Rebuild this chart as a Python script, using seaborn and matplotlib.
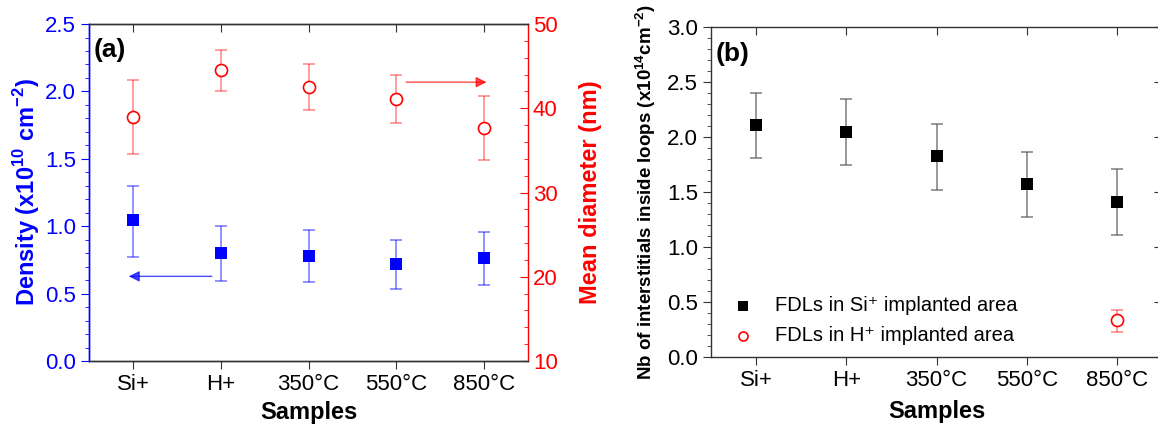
import numpy as np
import pandas as pd
import matplotlib
matplotlib.use("Agg")
import matplotlib.pyplot as plt
from matplotlib.ticker import MultipleLocator
import seaborn as sns

# --- dados ---
samples = ["Si+", "H+", "350°C", "550°C", "850°C"]

density = [1.045, 0.80, 0.78, 0.718, 0.767]
density_hi = [1.30, 1.005, 0.97, 0.896, 0.955]
density_lo = [0.775, 0.597, 0.584, 0.532, 0.567]

diameter = [39.0, 44.5, 42.5, 41.1, 37.6]
diameter_hi = [43.4, 46.9, 45.25, 44.0, 41.45]
diameter_lo = [34.55, 42.1, 39.8, 38.2, 33.8]

n_si = [2.11, 2.05, 1.827, 1.574, 1.413]
n_si_hi = [2.40, 2.35, 2.12, 1.866, 1.705]
n_si_lo = [1.805, 1.745, 1.517, 1.27, 1.112]

h_sample = ["850°C"]
n_h = [0.334]
n_h_hi = [0.43]
n_h_lo = [0.225]

# --- estilo ---
sns.set_style("ticks")
plt.rcParams["font.family"] = ["Liberation Sans", "DejaVu Sans"]
plt.rcParams["mathtext.fontset"] = "custom"
plt.rcParams["mathtext.rm"] = "Liberation Sans"
plt.rcParams["mathtext.bf"] = "Liberation Sans:bold"
plt.rcParams["axes.linewidth"] = 1.0
plt.rcParams["text.color"] = "black"
plt.rcParams["axes.labelcolor"] = "black"
plt.rcParams["xtick.color"] = "black"
plt.rcParams["ytick.color"] = "black"

BLUE = "#0000ff"
RED = "#ff0000"
TICK_FS = 16

pos = {s: i for i, s in enumerate(samples)}
df_a = pd.DataFrame({"x": [pos[s] for s in samples], "density": density,
                     "diameter": diameter})
df_b = pd.DataFrame({"x": [pos[s] for s in samples], "n": n_si})
df_h = pd.DataFrame({"x": [pos[s] for s in h_sample], "n": n_h})


def err(v, lo, hi):
    v = np.array(v)
    return [v - np.array(lo), np.array(hi) - v]


fig = plt.figure(figsize=(11.58, 4.26), dpi=100)

# ================= painel (a) =================
ax = fig.add_axes([0.0769, 0.1526, 0.3791, 0.791])
ax2 = ax.twinx()

ax.errorbar(df_a["x"], df_a["density"], yerr=err(density, density_lo, density_hi),
            fmt="none", ecolor=BLUE, alpha=0.5, elinewidth=1.2, capsize=4, capthick=1.2)
sns.scatterplot(data=df_a, x="x", y="density", ax=ax, marker="s", s=70,
                color=BLUE, edgecolor=BLUE, linewidth=0, zorder=3)

ax2.errorbar(df_a["x"], df_a["diameter"], yerr=err(diameter, diameter_lo, diameter_hi),
             fmt="none", ecolor=RED, alpha=0.45, elinewidth=1.2, capsize=4, capthick=1.2)
sns.scatterplot(data=df_a, x="x", y="diameter", ax=ax2, marker="o", s=75,
                facecolor="white", edgecolor=RED, linewidth=1.2, zorder=3)

ax.set_xlim(-0.5, 4.5)
ax.set_ylim(0, 2.5)
ax2.set_ylim(10, 50)
ax.set_xticks(range(len(samples)))
ax.set_xticklabels(samples)
ax.yaxis.set_major_locator(MultipleLocator(0.5))
ax.yaxis.set_minor_locator(MultipleLocator(0.1))
ax2.yaxis.set_major_locator(MultipleLocator(10))
ax2.yaxis.set_minor_locator(MultipleLocator(2))
ax.yaxis.set_major_formatter(matplotlib.ticker.FormatStrFormatter("%.1f"))

ax.tick_params(axis="x", which="major", direction="out", length=6, labelsize=TICK_FS,
               top=True, color="#333333", labelcolor="black")
ax.tick_params(axis="y", which="major", direction="out", length=6, color=BLUE,
               labelcolor=BLUE, labelsize=TICK_FS)
ax.tick_params(axis="y", which="minor", direction="out", length=3, color=BLUE)
ax2.tick_params(axis="y", which="major", direction="in", length=6, color=RED,
                labelcolor=RED, labelsize=TICK_FS)
ax2.tick_params(axis="y", which="minor", direction="in", length=3, color=RED)
for t in ax.xaxis.get_major_ticks():
    t.tick2line.set_marker(3)  # tick do topo para dentro

ax.spines["left"].set_color(BLUE)
ax2.spines["left"].set_color(BLUE)
ax2.spines["right"].set_color(RED)
ax.spines["right"].set_visible(False)
for sp in ["top", "bottom"]:
    ax.spines[sp].set_color("#333333")
    ax2.spines[sp].set_color("#333333")

ax.set_xlabel("Samples", fontsize=17, fontweight="bold", labelpad=4)
ax.set_ylabel(r"Density (x10$^{\mathbf{10}}$ cm$^{\mathbf{-2}}$)", fontsize=17,
              fontweight="bold", color=BLUE, labelpad=2)
ax2.set_ylabel("Mean diameter (nm)", fontsize=17, fontweight="bold", color=RED,
               labelpad=15)

ax.text(0.01, 0.96, "(a)", transform=ax.transAxes, fontsize=19, fontweight="bold",
        va="top", ha="left")

ax.annotate("", xy=(-0.08, 0.628), xytext=(0.93, 0.628),
            arrowprops=dict(arrowstyle="-|>", color=BLUE, lw=1.0, alpha=0.7,
                            mutation_scale=16))
ax2.annotate("", xy=(4.06, 43.1), xytext=(3.08, 43.1),
             arrowprops=dict(arrowstyle="-|>", color=RED, lw=1.0, alpha=0.7,
                             mutation_scale=16))
ax.set_zorder(ax2.get_zorder() + 1)
ax.patch.set_visible(False)

# ================= painel (b) =================
bx = fig.add_axes([0.614, 0.162, 0.3895, 0.7746])

bx.errorbar(df_b["x"], df_b["n"], yerr=err(n_si, n_si_lo, n_si_hi),
            fmt="none", ecolor="#555555", alpha=0.7, elinewidth=1.2, capsize=4, capthick=1.2)
sns.scatterplot(data=df_b, x="x", y="n", ax=bx, marker="s", s=75, color="black",
                edgecolor="black", linewidth=0, zorder=3,
                label="FDLs in Si\u207a implanted area")
bx.errorbar(df_h["x"], df_h["n"], yerr=err(n_h, n_h_lo, n_h_hi),
            fmt="none", ecolor=RED, alpha=0.45, elinewidth=1.2, capsize=4, capthick=1.2)
sns.scatterplot(data=df_h, x="x", y="n", ax=bx, marker="o", s=75, facecolor="white",
                edgecolor=RED, linewidth=1.2, zorder=3,
                label="FDLs in H\u207a implanted area")

bx.set_xlim(-0.5, 4.5)
bx.set_ylim(0, 3.0)
bx.set_xticks(range(len(samples)))
bx.set_xticklabels(samples)
bx.yaxis.set_major_locator(MultipleLocator(0.5))
bx.yaxis.set_minor_locator(MultipleLocator(0.1))
bx.yaxis.set_major_formatter(matplotlib.ticker.FormatStrFormatter("%.1f"))
bx.tick_params(axis="both", which="major", direction="out", length=6,
               labelsize=TICK_FS, color="#333333", labelcolor="black")
bx.tick_params(axis="y", which="minor", direction="out", length=3, color="#333333")
bx.tick_params(axis="x", which="major", top=True)
bx.tick_params(axis="y", which="major", right=True)
for t in bx.xaxis.get_major_ticks():
    t.tick2line.set_marker(3)
for t in bx.yaxis.get_major_ticks():
    t.tick2line.set_marker(0)
for sp in bx.spines.values():
    sp.set_color("#333333")

bx.set_xlabel("Samples", fontsize=17, fontweight="bold", labelpad=6)
bx.set_ylabel(r"Nb of interstitials inside loops (x10$^{\mathbf{14}}$cm$^{\mathbf{-2}}$)",
              fontsize=13.5, fontweight="bold", labelpad=6)
bx.text(0.01, 0.955, "(b)", transform=bx.transAxes, fontsize=19, fontweight="bold",
        va="top", ha="left")
bx.legend(loc="lower left", bbox_to_anchor=(0.0, 0.0), frameon=False, fontsize=14.5,
          handletextpad=0.6, markerscale=0.75, borderaxespad=0.2, labelspacing=0.55)

fig.savefig("out.png", dpi=100)
